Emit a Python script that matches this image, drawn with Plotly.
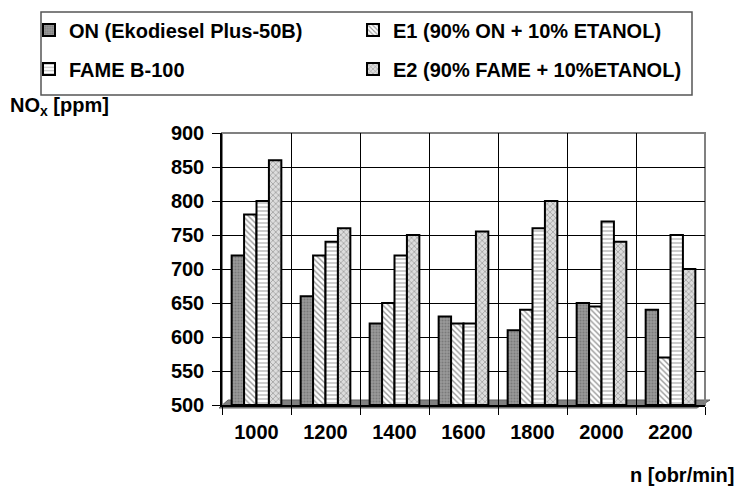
import plotly.graph_objects as go

categories = ["1000", "1200", "1400", "1600", "1800", "2000", "2200"]
series_names = ["ON (Ekodiesel Plus-50B)", "E1 (90% ON + 10% ETANOL)",
                "FAME B-100", "E2 (90% FAME + 10%ETANOL)"]
on_vals = [720, 660, 620, 630, 610, 650, 640]
e1_vals = [780, 720, 650, 620, 640, 645, 570]
fame_vals = [800, 740, 720, 620, 760, 770, 750]
e2_vals = [860, 760, 750, 755, 800, 740, 700]
y_ticks = [500, 550, 600, 650, 700, 750, 800, 850, 900]

values = [on_vals, e1_vals, fame_vals, e2_vals]
styles = [
    dict(color="#9a9a9a", pattern=dict(shape=".", fgcolor="#5a5a5a", bgcolor="#9a9a9a", size=3, solidity=0.4)),
    dict(color="white", pattern=dict(shape="\\", fgcolor="#333333", bgcolor="white", size=4, solidity=0.35)),
    dict(color="white", pattern=dict(shape="-", fgcolor="#555555", bgcolor="white", size=4, solidity=0.3)),
    dict(color="white", pattern=dict(shape="x", fgcolor="#444444", bgcolor="#dddddd", size=4, solidity=0.3)),
]
legend_ids = ["legend", "legend2", "legend3", "legend4"]

FONT = "Liberation Sans, Arial, sans-serif"
FS = 20
xpos = list(range(len(categories)))

fig = go.Figure()
for name, vals, st, lg in zip(series_names, values, styles, legend_ids):
    fig.add_trace(go.Bar(
        x=xpos, y=[v - 500 for v in vals], base=500, name=name,
        marker=dict(color=st["color"], pattern=st["pattern"],
                    line=dict(color="black", width=2)),
        legend=lg, showlegend=True,
    ))

L, R, T, B = 222, 41, 133, 89
W, H = 746, 494
pw, ph = W - L - R, H - T - B

def px(x):
    return (x - L) / pw

def py(y):
    return (H - B - y) / ph

shapes = [
    # floor
    dict(type="path", xref="paper", yref="paper", layer="below",
         path=f"M{px(219)},{py(408)} L{px(697)},{py(408)} L{px(710)},{py(400)} L{px(228)},{py(400)} Z",
         fillcolor="#808080", line=dict(color="#606060", width=1)),
    # wall outline
    dict(type="rect", xref="paper", yref="paper", layer="below",
         x0=0, x1=1, y0=0, y1=1, line=dict(color="#808080", width=2)),
    # legend box
    dict(type="rect", xref="paper", yref="paper",
         x0=px(41), x1=px(692), y0=py(95), y1=py(12),
         line=dict(color="#555555", width=1.5)),
]

legend_pos = [(29, 30), (353, 30), (29, 69), (353, 69)]
legend_layout = {}
for lg, (lx, ly) in zip(legend_ids, legend_pos):
    legend_layout[lg] = dict(
        orientation="h", xref="container", yref="container",
        x=lx / W, y=1 - ly / H, xanchor="left", yanchor="middle",
        font=dict(size=FS, family=FONT, weight="bold"),
        bgcolor="rgba(0,0,0,0)", borderwidth=0, visible=True)

fig.update_layout(
    width=W, height=H,
    margin=dict(l=L, r=R, t=T, b=B),
    paper_bgcolor="white", plot_bgcolor="white",
    showlegend=True,
    font=dict(family=FONT, color="black", size=FS, weight="bold"),
    barmode="group", bargap=0.28, bargroupgap=0,
    shapes=shapes,
    annotations=[
        dict(text="NO<sub>x</sub> [ppm]", xref="paper", yref="paper",
             x=px(8), y=py(107), xanchor="left", yanchor="middle",
             showarrow=False, font=dict(size=FS, family=FONT, weight="bold")),
        dict(text="n [obr/min]", xref="paper", yref="paper",
             x=px(736), y=py(475), xanchor="right", yanchor="middle",
             showarrow=False, font=dict(size=FS, family=FONT, weight="bold")),
    ],
    **legend_layout,
)

fig.update_xaxes(
    range=[-0.5, len(categories) - 0.5],
    tickvals=xpos, ticktext=categories, ticks="", showgrid=False,
    showline=True, linecolor="black", linewidth=1.5,
    ticklabelstandoff=8, zeroline=False,
    tickfont=dict(size=FS, family=FONT, weight="bold"),
    minor=dict(tick0=-0.5, dtick=1, showgrid=True, gridcolor="black",
               gridwidth=1, ticks="outside", ticklen=8, tickcolor="black"),
)
fig.update_yaxes(
    range=[500, 900], tickvals=y_ticks, showgrid=True, gridcolor="black",
    gridwidth=1, ticks="outside", ticklen=8, tickcolor="black",
    showline=True, linecolor="black", linewidth=1.5, zeroline=False,
    ticklabelstandoff=4,
    tickfont=dict(size=FS, family=FONT, weight="bold"),
)

fig.write_html("out.html")
